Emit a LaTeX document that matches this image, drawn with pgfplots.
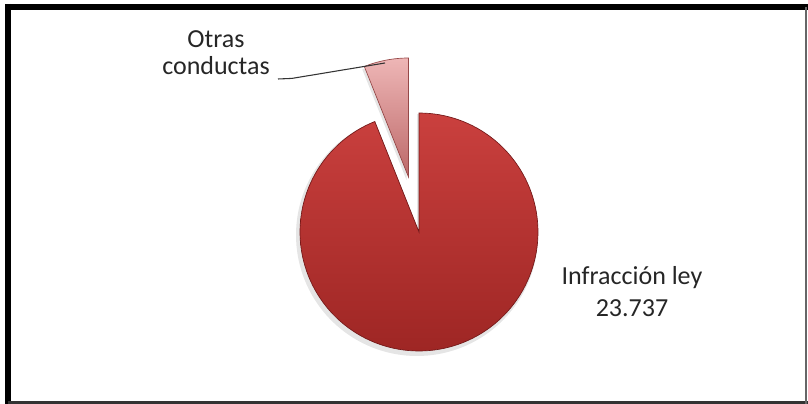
\documentclass[border=0pt]{standalone}
\usepackage{pgfplots}
\usepackage{pgfplotstable}
\pgfplotsset{compat=1.18}
\usepackage{fontspec}
\setmainfont{Carlito}
\definecolor{bigtop}{RGB}{202,64,62}
\definecolor{bigbot}{RGB}{158,38,36}
\definecolor{bigedge}{RGB}{115,24,24}
\definecolor{smtop}{RGB}{238,182,182}
\definecolor{smbot}{RGB}{188,104,104}
\definecolor{smedge}{RGB}{150,72,72}
\pgfplotstableread{
label value
Infraccion 23737
Otras 1530
}\piedata
\pgfplotstablegetelem{0}{value}\of\piedata \let\va\pgfplotsretval
\pgfplotstablegetelem{1}{value}\of\piedata \let\vb\pgfplotsretval
\edef\angb{\fpeval{round(360*\vb/(\va+\vb),4)}}
\edef\starta{\fpeval{90+\angb}}
\def\sx{408.5}
\def\sy{227}
\begin{document}%
\begin{tikzpicture}
\begin{axis}[
  name=ax,
  scale only axis, width=606pt, height=303pt,
  xmin=0, xmax=808, ymin=0, ymax=404,
  hide axis, clip=false, no markers,
]
% shadow
\addplot[fill=black!10, draw=none, domain=\starta:450, samples=140]
  ({417+121*cos(x)},{169+121*sin(x)}) -- (axis cs:417,169) -- cycle;
% big slice
\addplot[shade, top color=bigtop, bottom color=bigbot, draw=bigedge, line width=0.5pt,
  domain=\starta:450, samples=140]
  ({419+119*cos(x)},{172+119*sin(x)}) -- (axis cs:419,172) -- cycle;
% small slice (exploded)
\addplot[fill=black!10, draw=none, domain=90:\starta, samples=20]
  ({\sx-2+119*cos(x)},{\sy-3+119*sin(x)}) -- (axis cs:\sx-2,\sy-3) -- cycle;
\addplot[shade, top color=smtop, bottom color=smbot, draw=smedge, line width=0.5pt,
  domain=90:\starta, samples=20]
  ({\sx+119*cos(x)},{\sy+119*sin(x)}) -- (axis cs:\sx,\sy) -- cycle;
% labels
\node[anchor=base, font=\fontsize{19.5}{22}\selectfont, text=black!85] at (axis cs:216,356) {Otras};
\node[anchor=base, font=\fontsize{19.5}{22}\selectfont, text=black!85] at (axis cs:216,329) {conductas};
\draw[black!80, line width=0.8pt] (axis cs:278,325) -- (axis cs:292,325.6) -- (axis cs:385,341);
\node[anchor=base, font=\fontsize{19.5}{22}\selectfont, text=black!85] at (axis cs:632,119) {Infracción ley};
\node[anchor=base, font=\fontsize{19.5}{22}\selectfont, text=black!85] at (axis cs:632,87) {23.737};
% frame
\draw[black, line width=4.5pt] (axis cs:5,397) -- (axis cs:808,397);
\draw[black, line width=4.5pt] (axis cs:8,400) -- (axis cs:8,0);
\draw[black!80, line width=2pt] (axis cs:8,1.3) -- (axis cs:808,1.3);
\draw[black!60, line width=1pt] (axis cs:806,397) -- (axis cs:806,0);
\end{axis}
\pgfresetboundingbox
\path[use as bounding box] (ax.south west) rectangle (ax.north east);
\end{tikzpicture}%
\end{document}
